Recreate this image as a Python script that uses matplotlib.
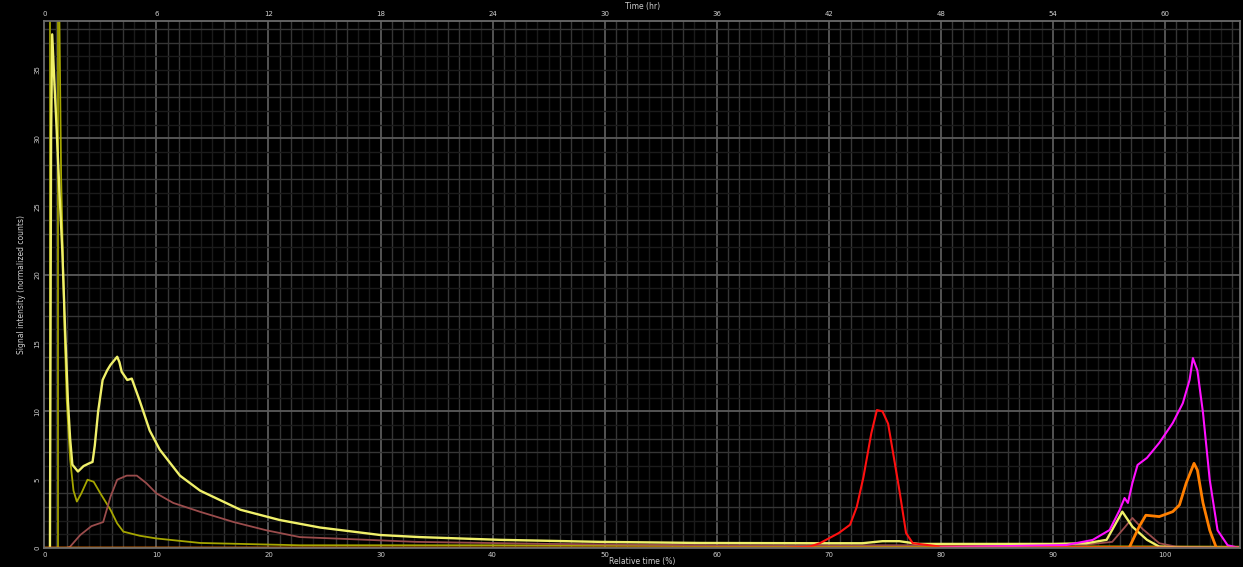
import numpy as np
import matplotlib.pyplot as plt
from matplotlib.patches import Rectangle

# relative time (%) vs signal, one list per trace
spike_x = [0, 0.5, 0.5, 0.5, 1.25, 1.25, 1.25, 106.7]
spike_y = [0, 0, 42, 0, 0, 42, 0, 0]

olive_x = [1.3, 1.5, 1.8, 2.0, 2.3, 2.6, 2.9, 3.3, 3.85, 4.4, 5.0, 5.9, 6.5,
           7.05, 8.5, 10, 13.9, 22.8, 40, 60, 80, 106.7]
olive_y = [42, 27, 16, 10.8, 6.5, 4.2, 3.4, 4.0, 5.0, 4.85, 4.0, 2.8, 1.8,
           1.2, 0.9, 0.7, 0.37, 0.2, 0.2, 0.15, 0.15, 0.1]

yellow_x = [0.5, 0.6, 0.7, 0.9, 1.1, 1.35, 1.6, 1.85, 2.1, 2.3, 2.5, 3.0, 3.5,
            4.0, 4.3, 4.5, 4.8, 5.2, 5.6, 5.9, 6.3, 6.5, 6.7, 6.9, 7.4, 7.8,
            8.5, 9.4, 10.3, 12.1, 13.9, 17.5, 21, 24.6, 30, 33.5, 40.6, 49.6,
            58.5, 69.2, 73, 74.8, 76.3, 78, 90, 93, 94.8, 96.2, 97.1, 98.4,
            99.5, 101, 106.7]
yellow_y = [0, 30, 37.6, 34, 30.6, 26, 21.8, 16, 10.8, 8, 6.1, 5.6, 6.0,
            6.2, 6.3, 7.5, 10, 12.3, 13.0, 13.4, 13.8, 14.0, 13.6, 12.9, 12.3,
            12.4, 10.8, 8.6, 7.2, 5.3, 4.2, 2.8, 2.05, 1.5, 0.95, 0.8, 0.6,
            0.45, 0.37, 0.35, 0.35, 0.5, 0.5, 0.3, 0.3, 0.35, 0.6, 2.66, 1.56,
            0.6, 0.1, 0.05, 0]

mauve_x = [2.0, 2.3, 3.2, 4.2, 5.25, 5.9, 6.5, 7.35, 8.25, 9.1, 10, 11.5,
           13.9, 16.9, 19.8, 22.8, 28.8, 33.2, 45, 60, 80, 93, 95.3, 96.4,
           97.1, 98.0, 99.5, 101, 106.7]
mauve_y = [0, 0.1, 0.95, 1.6, 1.9, 3.75, 5.0, 5.3, 5.3, 4.75, 4.0, 3.3,
           2.65, 1.9, 1.3, 0.8, 0.6, 0.45, 0.3, 0.2, 0.2, 0.25, 0.45, 1.5,
           2.2, 1.4, 0.35, 0.1, 0]

red_x = [0, 66, 68.3, 69.2, 70.9, 71.9, 72.5, 73.1, 73.8, 74.3, 74.8, 75.3,
         75.9, 76.3, 76.9, 77.5, 80, 106.7]
red_y = [0, 0, 0.1, 0.35, 1.1, 1.7, 3.0, 5.2, 8.4, 10.1, 10.0, 9.1, 6.2,
         4.25, 1.1, 0.35, 0.1, 0]

magenta_x = [80, 91.2, 93.55, 95.07, 95.96, 96.4, 96.7, 97.1, 97.56, 98.4,
             99.5, 100.7, 101.6, 102.2, 102.5, 102.9, 103.4, 104.0, 104.7,
             105.6, 106.7]
magenta_y = [0.05, 0.22, 0.59, 1.32, 2.78, 3.66, 3.3, 4.76, 6.08, 6.6, 7.7,
             9.15, 10.6, 12.3, 13.9, 13.0, 9.9, 5.0, 1.3, 0.2, 0]

orange_x = [0, 96.8, 97.7, 98.3, 99.5, 100.7, 101.3, 101.9, 102.6, 102.9,
            103.4, 104.0, 104.6, 106.7]
orange_y = [0, 0, 1.56, 2.4, 2.3, 2.66, 3.15, 4.75, 6.2, 5.7, 3.3, 1.3, 0, 0]

bottom_ticks = [0, 10, 20, 30, 40, 50, 60, 70, 80, 90, 100]
top_ticks = [0, 6, 12, 18, 24, 30, 36, 42, 48, 54, 60]
left_ticks = [0, 5, 10, 15, 20, 25, 30, 35]

fig = plt.figure(figsize=(12.53, 5.73), dpi=100)
fig.patch.set_facecolor('white')
fig.patches.append(Rectangle((0, 0.011), 0.992, 0.989, transform=fig.transFigure,
                             facecolor='black', edgecolor='none', zorder=-10))

ax = fig.add_axes([0.0354, 0.0436, 0.9542, 0.9203])
ax.set_facecolor('black')
ax.set_xlim(0, 106.7)
ax.set_ylim(0, 38.6)

# grid: faint every unit, medium pairs, bright every 10
for v in np.arange(1, 107):
    c = '#1b1b1b'
    if v % 10 in (1, 2, 6, 7):
        c = '#363636'
    if v % 10 == 0:
        c = '#5a5a5a'
    ax.axvline(v, color=c, lw=1.0 if v % 10 else 1.3, zorder=0)
for v in np.arange(1, 39):
    c = '#1b1b1b'
    if v % 10 in (3, 4, 7, 8):
        c = '#363636'
    if v % 10 == 0:
        c = '#5a5a5a'
    ax.axhline(v, color=c, lw=1.0 if v % 10 else 1.3, zorder=0)

ax.plot(spike_x, spike_y, color='#8f8f00', lw=1.2)
ax.plot(olive_x, olive_y, color='#a6a600', lw=1.3)
ax.plot(mauve_x, mauve_y, color='#9a4c4c', lw=1.3)
ax.plot(yellow_x, yellow_y, color='#f0f06a', lw=1.7)
ax.plot(red_x, red_y, color='#ff1010', lw=1.5)
ax.plot(magenta_x, magenta_y, color='#ff10ff', lw=1.5)
ax.plot(orange_x, orange_y, color='#ff7f00', lw=2.0)

for s in ax.spines.values():
    s.set_color('#6a6a6a')
    s.set_linewidth(1.3)

ax.set_xticks(bottom_ticks)
ax.set_yticks(left_ticks)
ax.tick_params(colors='#cfcfcf', labelsize=5, length=0, pad=3)
for t in ax.get_yticklabels():
    t.set_rotation(90)
    t.set_va('center')
ax.set_xlabel('Relative time (%)', color='#cfcfcf', fontsize=5.5, labelpad=-1)
ax.set_ylabel('Signal intensity (normalized counts)', color='#cfcfcf',
              fontsize=5.5, labelpad=6)

top = ax.twiny()
top.set_xlim(0, 106.7 * 0.6)
top.set_xticks(top_ticks)
top.tick_params(colors='#cfcfcf', labelsize=5, length=0, pad=3)
top.set_xlabel('Time (hr)', color='#cfcfcf', fontsize=5.5, labelpad=1)
for s in top.spines.values():
    s.set_visible(False)

fig.savefig('out.png', dpi=100, facecolor=fig.get_facecolor())
